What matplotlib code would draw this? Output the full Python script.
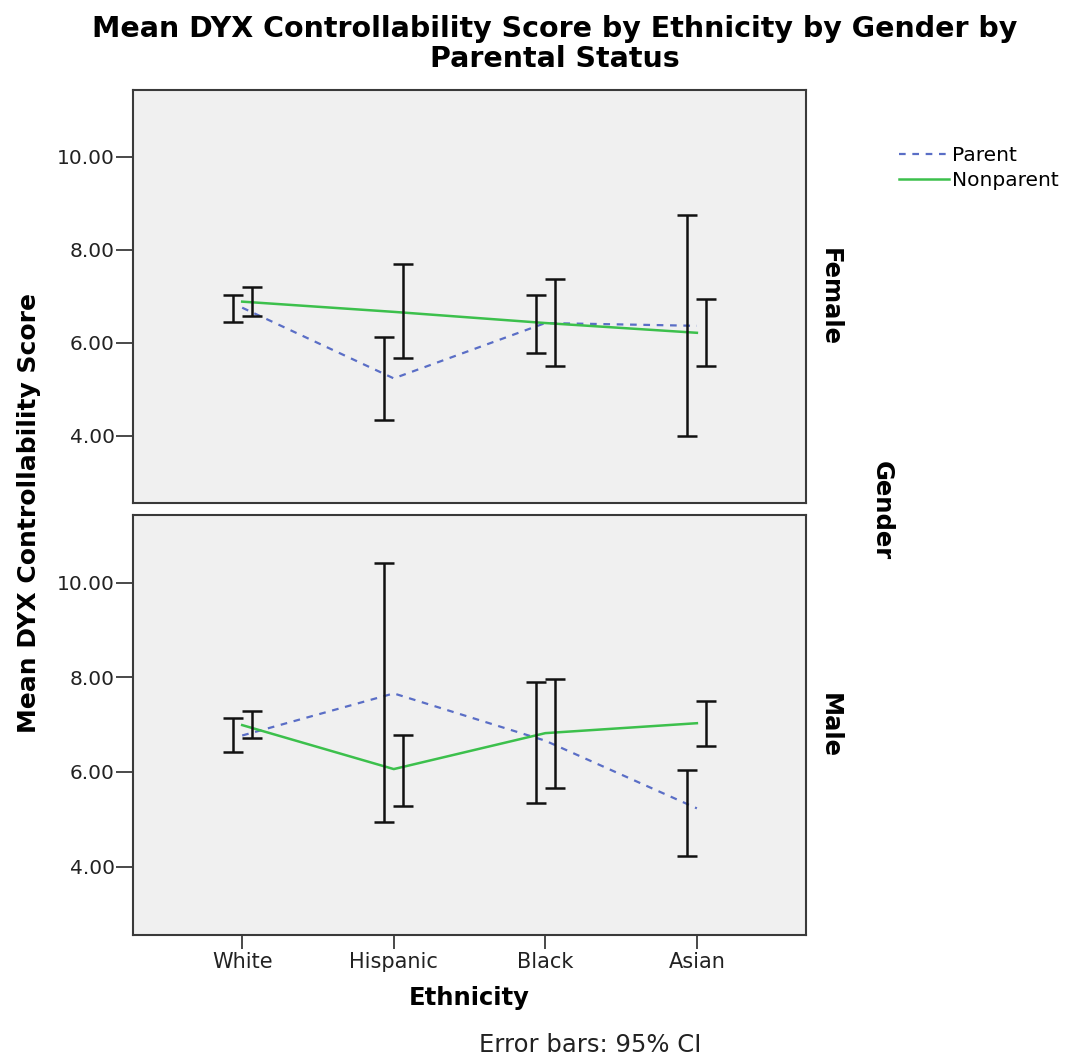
import numpy as np
import matplotlib
matplotlib.use('Agg')
import matplotlib.pyplot as plt
from matplotlib.lines import Line2D

# 数据
ethnicities = ['White', 'Hispanic', 'Black', 'Asian']
y_ticks = [4.0, 6.0, 8.0, 10.0]

female_parent_mean = [6.75, 5.23, 6.42, 6.36]
female_parent_lo = [6.44, 4.34, 5.77, 4.00]
female_parent_hi = [7.02, 6.11, 7.02, 8.74]
female_nonparent_mean = [6.88, 6.66, 6.42, 6.21]
female_nonparent_lo = [6.57, 5.66, 5.50, 5.50]
female_nonparent_hi = [7.19, 7.68, 7.36, 6.93]

male_parent_mean = [6.77, 7.66, 6.66, 5.23]
male_parent_lo = [6.42, 4.94, 5.34, 4.23]
male_parent_hi = [7.14, 10.42, 7.90, 6.04]
male_nonparent_mean = [6.99, 6.06, 6.82, 7.03]
male_nonparent_lo = [6.71, 5.29, 5.66, 6.55]
male_nonparent_hi = [7.29, 6.79, 7.96, 7.51]

parent_color = '#5a6ec6'
nonparent_color = '#3cc04c'
bg = '#f0f0f0'
edge = '#3a3a3a'

fig = plt.figure(figsize=(10.67, 10.59), dpi=100)
ax_top = fig.add_axes([0.1247, 0.525, 0.6307, 0.390])
ax_bot = fig.add_axes([0.1247, 0.117, 0.6307, 0.3966])

x = np.arange(len(ethnicities))
off = 0.0625

panels = [
    (ax_top, 'Female', female_parent_mean, female_parent_lo, female_parent_hi,
     female_nonparent_mean, female_nonparent_lo, female_nonparent_hi),
    (ax_bot, 'Male', male_parent_mean, male_parent_lo, male_parent_hi,
     male_nonparent_mean, male_nonparent_lo, male_nonparent_hi),
]

for ax, gender, pm, plo, phi, nm, nlo, nhi in panels:
    ax.set_facecolor(bg)
    ax.plot(x, pm, color=parent_color, lw=1.6, dashes=(3, 3), zorder=3)
    ax.plot(x, nm, color=nonparent_color, lw=1.8, zorder=3)
    for xs, lo, hi in [(x - off, plo, phi), (x + off, nlo, nhi)]:
        lo = np.array(lo)
        hi = np.array(hi)
        mid = (lo + hi) / 2
        ax.errorbar(xs, mid, yerr=[mid - lo, hi - mid], fmt='none',
                    ecolor='#111111', elinewidth=1.8, capsize=7, capthick=1.8, zorder=4)
    ax.set_xlim(-0.72, 3.72)
    ax.set_ylim(2.55, 11.43)
    ax.set_yticks(y_ticks)
    ax.set_yticklabels(['%.2f' % v for v in y_ticks], fontsize=14.5, color='#222222')
    ax.tick_params(axis='y', direction='out', length=12, width=1.3, color=edge, pad=1)
    for s in ax.spines.values():
        s.set_color(edge)
        s.set_linewidth(1.5)
    ax.text(1.035, 0.5, gender, transform=ax.transAxes, rotation=-90,
            ha='center', va='center', fontsize=17.5, fontweight='bold')

ax_top.set_xticks([])
ax_bot.set_xticks(x)
ax_bot.set_xticklabels(ethnicities, fontsize=15, color='#222222')
ax_bot.tick_params(axis='x', direction='out', length=10, width=1.3, color=edge, pad=2)

fig.text(0.52, 0.986, 'Mean DYX Controllability Score by Ethnicity by Gender by\nParental Status',
         ha='center', va='top', fontsize=20.5, fontweight='bold', linespacing=1.08)
fig.text(0.027, 0.516, 'Mean DYX Controllability Score', rotation=90,
         ha='center', va='center', fontsize=18, fontweight='bold')
fig.text(0.44, 0.058, 'Ethnicity', ha='center', va='center', fontsize=17.5, fontweight='bold')
fig.text(0.553, 0.013, 'Error bars: 95% CI', ha='center', va='center', fontsize=17.5,
         color='#222222')
fig.text(0.826, 0.518, 'Gender', rotation=-90, ha='center', va='center',
         fontsize=17.5, fontweight='bold')

handles = [Line2D([], [], color=parent_color, lw=1.6, dashes=(3, 3)),
           Line2D([], [], color=nonparent_color, lw=1.8)]
fig.legend(handles, ['Parent', 'Nonparent'], loc='upper left',
           bbox_to_anchor=(0.833, 0.872), frameon=False, fontsize=14.5,
           handlelength=2.5, handletextpad=0.15, labelspacing=0.3, borderpad=0)

fig.savefig('out.png', dpi=100)
